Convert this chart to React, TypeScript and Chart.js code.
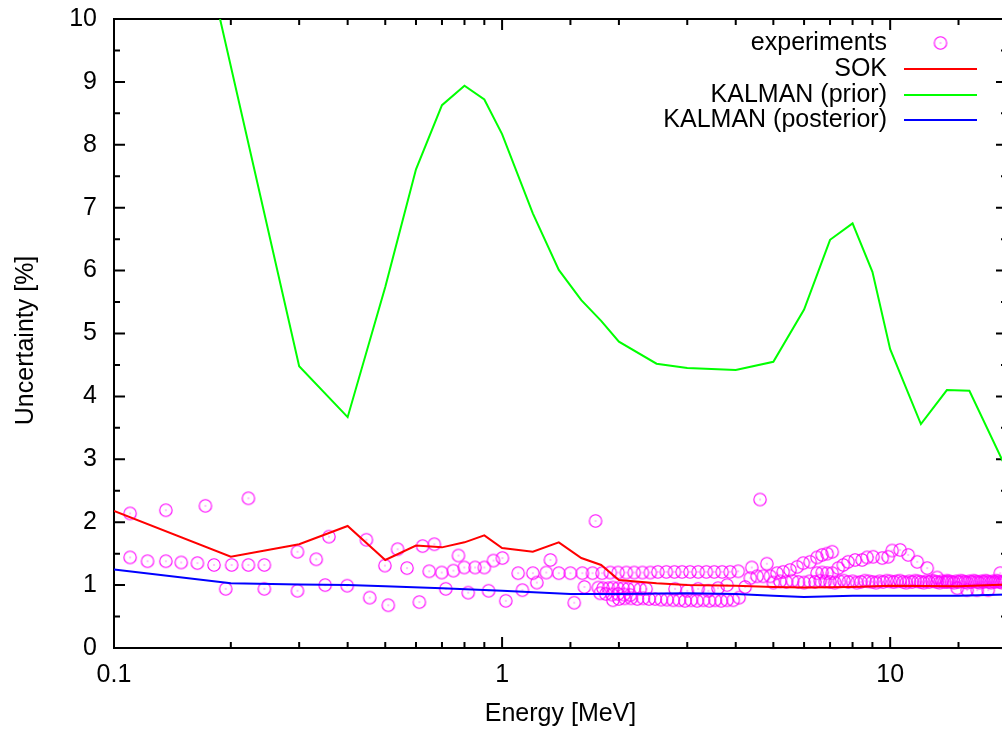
import React, { useEffect, useRef } from 'react';
import { Chart, registerables } from 'chart.js';

Chart.register(...registerables);

const FONT = "'Liberation Sans', Arial, Helvetica, sans-serif";
const FS = 25;

// ---- tick labels ----
const xTickLabels = ['0.1', '1', '10'];
const yTickLabels = ['0', '1', '2', '3', '4', '5', '6', '7', '8', '9', '10'];

// ---- legend / axis text ----
const xTitle = 'Energy [MeV]';
const yTitle = 'Uncertainty [%]  ';
const seriesNames = ['experiments', 'SOK', 'KALMAN (prior)', 'KALMAN (posterior)'];

// ---- KALMAN (prior) ----
const priorE = [0.1, 0.3, 0.4, 0.5, 0.6, 0.7, 0.8, 0.9, 1.0, 1.2, 1.4, 1.6, 1.8, 2.0, 2.5, 3.0, 4.0, 5.0, 6.0, 7.0, 8.0, 9.0, 10, 12, 14, 16, 20];
const priorU = [17.4, 4.48, 3.67, 5.74, 7.61, 8.63, 8.94, 8.72, 8.17, 6.91, 6.01, 5.53, 5.2, 4.87, 4.52, 4.45, 4.42, 4.55, 5.38, 6.49, 6.75, 5.98, 4.75, 3.56, 4.10, 4.09, 2.83];

// ---- SOK ----
const sokE = [0.1, 0.2, 0.3, 0.4, 0.5, 0.6, 0.7, 0.8, 0.9, 1.0, 1.2, 1.4, 1.6, 1.8, 2.0, 2.5, 3.0, 4.0, 5.0, 6.0, 8.0, 10, 15, 20];
const sokU = [2.18, 1.45, 1.65, 1.94, 1.40, 1.63, 1.60, 1.68, 1.79, 1.59, 1.53, 1.68, 1.43, 1.32, 1.08, 1.03, 1.00, 0.99, 0.97, 0.96, 0.97, 0.99, 0.98, 1.01];

// ---- KALMAN (posterior) ----
const postE = [0.1, 0.2, 0.3, 0.4, 0.5, 0.7, 1.0, 1.5, 2.0, 3.0, 4.0, 5.0, 6.0, 8.0, 10, 15, 20];
const postU = [1.25, 1.03, 1.01, 1.00, 0.98, 0.95, 0.91, 0.86, 0.86, 0.87, 0.86, 0.83, 0.81, 0.83, 0.83, 0.83, 0.85];

// ---- experiments (several data sets) ----
const expLowE = [0.110, 0.110, 0.122, 0.136, 0.136, 0.149, 0.164, 0.172, 0.181, 0.194, 0.201, 0.222, 0.222, 0.244, 0.244, 0.297, 0.297, 0.332, 0.358, 0.350, 0.399, 0.447, 0.456, 0.499, 0.509, 0.538, 0.569, 0.612, 0.624, 0.649, 0.669, 0.699, 0.716, 0.749, 0.772, 0.799, 0.818, 0.852, 0.900, 0.923, 0.950, 1.002, 1.022, 1.128, 1.229, 1.332, 1.534, 1.630, 1.741];
const expLowU = [2.14, 1.44, 1.38, 2.19, 1.38, 1.36, 1.35, 2.26, 1.32, 0.94, 1.32, 2.38, 1.32, 0.94, 1.32, 1.53, 0.91, 1.41, 1.77, 1.00, 0.99, 1.72, 0.80, 1.31, 0.68, 1.57, 1.27, 0.73, 1.62, 1.22, 1.65, 1.20, 0.94, 1.23, 1.47, 1.28, 0.88, 1.28, 1.28, 0.91, 1.39, 1.43, 0.75, 0.92, 1.04, 1.40, 0.72, 0.97, 2.02];

const expAE = [1.10, 1.20, 1.30, 1.40, 1.50, 1.61, 1.71, 1.81, 1.90, 1.99, 2.09, 2.19, 2.30, 2.41, 2.52, 2.65, 2.78, 2.91, 3.05, 3.20, 3.36, 3.52, 3.69, 3.87, 4.06];
const expAU = [1.19, 1.19, 1.20, 1.19, 1.19, 1.19, 1.19, 1.19, 1.20, 1.20, 1.20, 1.20, 1.20, 1.20, 1.21, 1.21, 1.21, 1.21, 1.21, 1.21, 1.21, 1.21, 1.21, 1.21, 1.22];

const expBE = [1.77, 1.82, 1.88, 1.93, 1.99, 2.05, 2.11, 2.19, 2.27, 2.35, 2.79, 3.00, 3.20, 3.40, 3.60, 3.80];
const expBU = [0.96, 0.95, 0.95, 0.96, 0.95, 0.95, 0.94, 0.95, 0.94, 0.94, 0.94, 0.91, 0.94, 0.91, 0.95, 1.00];

const expCE = [1.93, 2.00, 2.07, 2.15, 2.23, 2.31, 2.39, 2.48, 2.57, 2.66, 2.76, 2.86, 2.96, 3.07, 3.18, 3.30, 3.42, 3.54, 3.67, 3.80, 3.94, 4.08];
const expCU = [0.76, 0.78, 0.79, 0.79, 0.78, 0.79, 0.78, 0.78, 0.77, 0.77, 0.76, 0.76, 0.75, 0.76, 0.75, 0.76, 0.75, 0.76, 0.75, 0.76, 0.76, 0.80];

const expDE = [1.79, 1.85, 1.92, 1.99, 2.06, 2.14];
const expDU = [0.87, 0.86, 0.85, 0.86, 0.85, 0.84];

const expRiseE = [4.23, 4.36, 4.54, 4.71, 4.91, 5.11, 5.30, 5.52, 5.76, 5.97, 6.22, 6.48, 6.68, 6.88, 7.09, 4.40, 4.81, 4.62];
const expRiseU = [0.97, 1.11, 1.14, 1.14, 1.14, 1.19, 1.21, 1.24, 1.29, 1.35, 1.37, 1.44, 1.48, 1.50, 1.53, 1.28, 1.34, 2.36];

const expArcE = [6.48, 6.68, 6.88, 7.09, 7.35, 7.57, 7.79, 8.12, 8.47, 8.72, 9.04, 9.54, 9.88, 10.12, 10.61, 11.13, 11.74, 12.46, 13.22, 14.03, 14.89, 15.79, 16.76, 17.89, 19.21];
const expArcU = [1.19, 1.20, 1.19, 1.19, 1.27, 1.32, 1.37, 1.40, 1.40, 1.44, 1.45, 1.43, 1.45, 1.55, 1.56, 1.48, 1.37, 1.27, 1.12, 1.05, 0.95, 0.92, 0.92, 0.92, 1.19];

const expBandE = [
  5.0, 5.2, 5.4, 5.6, 5.8, 6.0, 6.2, 6.4, 6.6, 6.8, 7.0, 7.2, 7.4, 7.6, 7.8,
  8.0, 8.2, 8.4, 8.6, 8.8, 9.0, 9.2, 9.4, 9.6, 9.8, 10.0, 10.2, 10.4, 10.6, 10.8,
  11.0, 11.2, 11.4, 11.6, 11.8, 12.0, 12.2, 12.4, 12.6, 12.8, 13.0, 13.2, 13.4, 13.6, 13.8,
  14.0, 14.2, 14.4, 14.6, 14.8, 15.0, 15.2, 15.4, 15.6, 15.8, 16.0, 16.2, 16.4, 16.6, 16.8,
  17.0, 17.2, 17.4, 17.6, 17.8, 18.0, 18.2, 18.4, 18.6, 18.8, 19.0, 19.2, 19.4, 19.6, 19.8,
];
const expBandU = [
  1.04, 1.06, 1.05, 1.07, 1.05, 1.04, 1.06, 1.05, 1.07, 1.06, 1.05, 1.04, 1.06, 1.07, 1.05,
  1.06, 1.04, 1.05, 1.07, 1.06, 1.05, 1.04, 1.06, 1.05, 1.07, 1.06, 1.05, 1.06, 1.07, 1.05,
  1.04, 1.06, 1.05, 1.07, 1.06, 1.05, 1.04, 1.06, 1.05, 1.07, 1.06, 1.05, 1.04, 1.06, 1.05,
  1.07, 1.06, 1.05, 1.04, 1.06, 1.05, 1.07, 1.06, 1.05, 1.04, 1.06, 1.05, 1.07, 1.06, 1.05,
  1.04, 1.06, 1.05, 1.07, 1.06, 1.05, 1.04, 1.06, 1.05, 1.07, 1.06, 1.05, 1.04, 1.06, 1.05,
];

const COLORS = {
  exp: '#ff00ff',
  sok: '#ff0000',
  prior: '#00ff00',
  post: '#0000ff',
};

function zip(xs: number[], ys: number[]) {
  const out: { x: number; y: number }[] = [];
  for (let i = 0; i < Math.min(xs.length, ys.length); i++) out.push({ x: xs[i], y: ys[i] });
  return out;
}

function makeCircleImage(color: string) {
  const c = document.createElement('canvas');
  c.width = 16;
  c.height = 16;
  const g = c.getContext('2d')!;
  g.strokeStyle = color;
  g.lineWidth = 1.1;
  g.beginPath();
  g.arc(8, 8, 6.2, 0, Math.PI * 2);
  g.stroke();
  g.fillStyle = color;
  g.fillRect(7.5, 7.5, 1, 1);
  return c;
}

export default function App() {
  const ref = useRef<HTMLCanvasElement | null>(null);

  useEffect(() => {
    document.documentElement.style.overflow = 'hidden';
    document.body.style.overflow = 'hidden';
    const canvas = ref.current!;
    const circle = makeCircleImage(COLORS.exp);

    const expPoints = [
      ...zip(expLowE, expLowU),
      ...zip(expAE, expAU),
      ...zip(expBE, expBU),
      ...zip(expCE, expCU),
      ...zip(expDE, expDU),
      ...zip(expRiseE, expRiseU),
      ...zip(expArcE, expArcU),
      ...zip(expBandE, expBandU),
    ];

    const near = (a: number, b: number) => Math.abs(a - b) <= 1e-6 * Math.max(Math.abs(a), Math.abs(b));

    const framePlugin = {
      id: 'frame',
      beforeDatasetsDraw(chart: any) {
        const { ctx, chartArea: a, scales } = chart;
        const xs = scales.x;
        const ys = scales.y;
        ctx.save();
        ctx.strokeStyle = '#000';
        ctx.lineWidth = 2;
        ctx.beginPath();
        ys.ticks.forEach((t: any) => {
          const py = ys.getPixelForValue(t.value);
          const len = Number.isInteger(t.value) ? 11 : 6;
          ctx.moveTo(a.left, py);
          ctx.lineTo(a.left + len, py);
          ctx.moveTo(a.right, py);
          ctx.lineTo(a.right - len, py);
        });
        xs.ticks.forEach((t: any) => {
          const px = xs.getPixelForValue(t.value);
          const major = xTickLabels.some((l) => near(Number(l), t.value));
          const len = major ? 11 : 6;
          ctx.moveTo(px, a.bottom);
          ctx.lineTo(px, a.bottom - len);
          ctx.moveTo(px, a.top);
          ctx.lineTo(px, a.top + len);
        });
        ctx.stroke();
        ctx.strokeRect(a.left, a.top, a.right - a.left, a.bottom - a.top);
        ctx.restore();
      },
    };

    const legendPlugin = {
      id: 'gpLegend',
      afterDraw(chart: any) {
        const { ctx } = chart;
        const textRight = 879;
        const rows = [35, 61, 87, 112];
        const lineL = 896;
        const lineR = 969;
        ctx.save();
        ctx.font = `${FS}px ${FONT}`;
        ctx.fillStyle = '#000';
        ctx.textAlign = 'right';
        ctx.textBaseline = 'middle';
        const dsColors = [COLORS.exp, COLORS.sok, COLORS.prior, COLORS.post];
        seriesNames.forEach((name, i) => {
          const y = rows[i];
          ctx.fillText(name, textRight, y);
          if (i === 0) {
            ctx.drawImage(circle, (lineL + lineR) / 2 - 8, y - 8);
          } else {
            ctx.strokeStyle = dsColors[i];
            ctx.lineWidth = 2;
            ctx.beginPath();
            ctx.moveTo(lineL, y);
            ctx.lineTo(lineR, y);
            ctx.stroke();
          }
        });
        ctx.restore();
      },
    };

    const chart = new Chart(canvas, {
      type: 'scatter',
      data: {
        datasets: [
          {
            label: seriesNames[3],
            data: zip(postE, postU),
            showLine: true,
            borderColor: COLORS.post,
            backgroundColor: COLORS.post,
            borderWidth: 2,
            pointRadius: 0,
            tension: 0,
            order: 0,
          },
          {
            label: seriesNames[2],
            data: zip(priorE, priorU),
            showLine: true,
            borderColor: COLORS.prior,
            backgroundColor: COLORS.prior,
            borderWidth: 2,
            pointRadius: 0,
            tension: 0,
            order: 1,
          },
          {
            label: seriesNames[1],
            data: zip(sokE, sokU),
            showLine: true,
            borderColor: COLORS.sok,
            backgroundColor: COLORS.sok,
            borderWidth: 2,
            pointRadius: 0,
            tension: 0,
            order: 2,
          },
          {
            label: seriesNames[0],
            data: expPoints,
            showLine: false,
            pointStyle: circle as any,
            pointRadius: 6,
            borderColor: COLORS.exp,
            backgroundColor: COLORS.exp,
            order: 3,
          },
        ] as any,
      },
      options: {
        animation: false,
        responsive: false,
        maintainAspectRatio: false,
        devicePixelRatio: 1,
        layout: { padding: { top: 11, right: 13, left: 0, bottom: 0 } },
        plugins: {
          legend: { display: false },
          tooltip: { enabled: false },
        },
        scales: {
          x: {
            type: 'logarithmic',
            position: 'bottom',
            min: 0.1,
            max: 20,
            border: { display: false },
            grid: { display: false, drawTicks: false },
            ticks: {
              autoSkip: false,
              maxRotation: 0,
              minRotation: 0,
              padding: 12,
              color: '#000',
              font: { family: FONT, size: FS },
              callback: (v: any) => {
                const val = Number(v);
                const l = xTickLabels.find((s) => near(Number(s), val));
                return l ?? '';
              },
            },
            title: {
              display: true,
              text: xTitle,
              color: '#000',
              font: { family: FONT, size: FS },
              padding: { top: 0, bottom: 1 },
            },
            afterFit: (s: any) => {
              s.height = 82;
              s.paddingLeft = 0;
              s.paddingRight = 0;
            },
          },
          y: {
            type: 'linear',
            min: 0,
            max: 10,
            border: { display: false },
            grid: { display: false, drawTicks: false },
            ticks: {
              stepSize: 0.5,
              autoSkip: false,
              padding: 17,
              color: '#000',
              font: { family: FONT, size: FS },
              callback: (v: any) => {
                const val = Number(v);
                const l = yTickLabels.find((s) => near(Number(s), val) || (val === 0 && s === '0'));
                return l ?? '';
              },
            },
            title: {
              display: true,
              text: yTitle,
              color: '#000',
              font: { family: FONT, size: FS },
              padding: { top: 3, bottom: 0 },
            },
            afterFit: (s: any) => {
              s.width = 106;
              s.paddingTop = 0;
              s.paddingBottom = 0;
            },
          },
        },
      } as any,
      plugins: [framePlugin, legendPlugin],
    });

    return () => chart.destroy();
  }, []);

  return (
    <div style={{ position: 'fixed', left: 8, top: 8, width: 1012, height: 722, overflow: 'hidden' }}>
      <canvas ref={ref} width={1012} height={722} style={{ display: 'block' }} />
    </div>
  );
}
